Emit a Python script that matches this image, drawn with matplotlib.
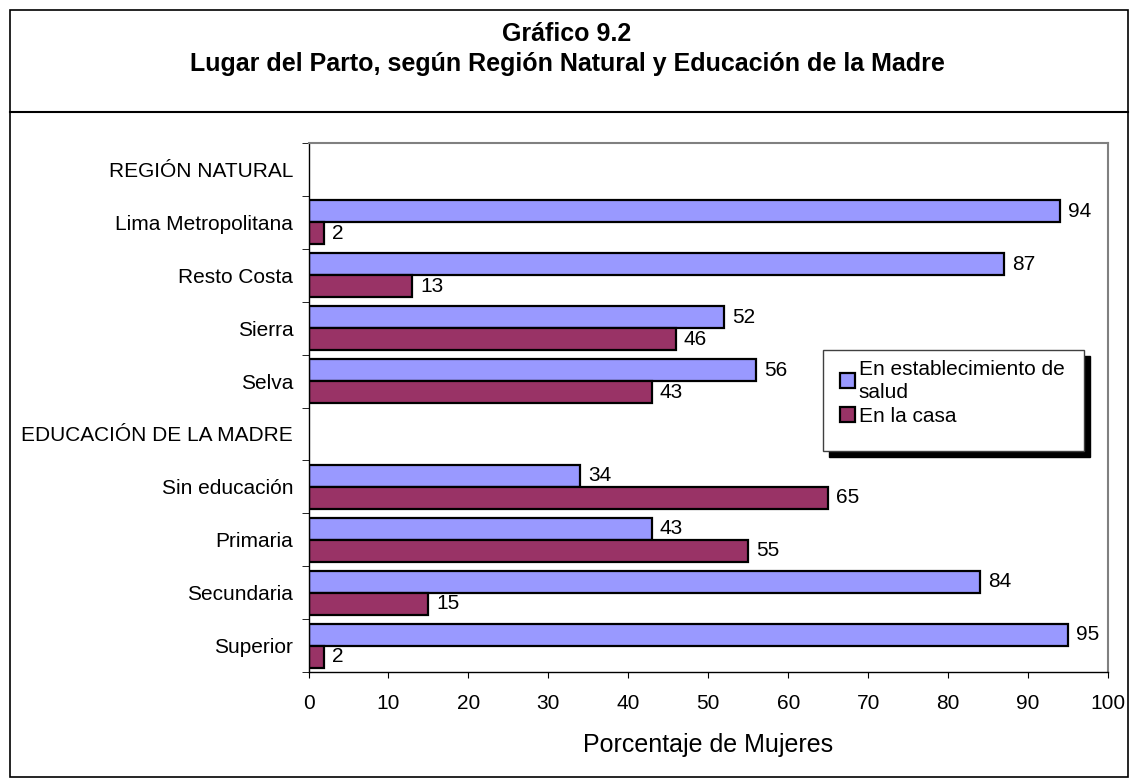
import matplotlib
matplotlib.use("Agg")
import matplotlib.pyplot as plt
from matplotlib.patches import Rectangle
from matplotlib.lines import Line2D
import numpy as np

plt.rcParams['font.family'] = ['Liberation Sans', 'DejaVu Sans']

categories = ["REGIÓN NATURAL", "Lima Metropolitana", "Resto Costa", "Sierra", "Selva",
              "EDUCACIÓN DE LA MADRE", "Sin educación", "Primaria", "Secundaria", "Superior"]
establecimiento = [None, 94, 87, 52, 56, None, 34, 43, 84, 95]
casa = [None, 2, 13, 46, 43, None, 65, 55, 15, 2]
series_names = ["En establecimiento de\nsalud", "En la casa"]
xticks = list(range(0, 101, 10))
title_lines = ["Gráfico 9.2", "Lugar del Parto, según Región Natural y Educación de la Madre"]
xlabel = "Porcentaje de Mujeres"

col_blue = "#9999FF"
col_red = "#993366"

W, H = 1131, 780
fig = plt.figure(figsize=(W / 100, H / 100), dpi=100)

def fx(px):
    return px / W

def fy(py):
    return 1 - py / H

# outer border and separator
fig.patches.append(Rectangle((fx(10), fy(777)), fx(1128) - fx(10), fy(10) - fy(777),
                             transform=fig.transFigure, fill=False, edgecolor="black", lw=1.2))
fig.lines.append(Line2D([fx(10), fx(1128)], [fy(112), fy(112)], transform=fig.transFigure,
                        color="black", lw=1.5))
fig.text(fx(567), fy(34), title_lines[0], ha="center", va="center", fontsize=18, fontweight="bold")
fig.text(fx(567), fy(64), title_lines[1], ha="center", va="center", fontsize=18, fontweight="bold")

ax_l, ax_r, ax_t, ax_b = 308.5, 1108, 143, 672
ax = fig.add_axes([fx(ax_l), fy(ax_b), fx(ax_r) - fx(ax_l), fy(ax_t) - fy(ax_b)])

n = len(categories)
ypos = np.arange(n)
bh = 0.415
for i in range(n):
    if establecimiento[i] is None:
        continue
    y1 = i - bh / 2
    y2 = i + bh / 2
    ax.barh(y1, establecimiento[i], height=bh, color=col_blue, edgecolor="black", lw=1.6)
    ax.barh(y2, casa[i], height=bh, color=col_red, edgecolor="black", lw=1.6)
    ax.text(establecimiento[i] + 0.95, y1, str(establecimiento[i]), va="center", ha="left", fontsize=15)
    ax.text(casa[i] + 0.95, y2, str(casa[i]), va="center", ha="left", fontsize=15)

ax.set_xlim(0, 100)
ax.set_ylim(n - 0.5, -0.5)
ax.set_xticks(xticks)
ax.set_xticklabels([str(t) for t in xticks], fontsize=15)
ax.set_yticks(ypos)
ax.set_yticklabels(categories, fontsize=15)
ax.tick_params(axis="y", length=0, pad=11)
ax.set_yticks(np.arange(-0.5, n, 1), minor=True)
ax.tick_params(axis="y", which="minor", length=5, direction="out")
ax.tick_params(axis="x", length=4.5, direction="out", pad=11)
ax.set_xlabel(xlabel, fontsize=18)
ax.xaxis.set_label_coords(0.5, -(745 - ax_b) / (ax_b - ax_t))
ax.xaxis.label.set_va("center")

for s in ["top", "right"]:
    ax.spines[s].set_color("#808080")
    ax.spines[s].set_linewidth(1.5)
for s in ["left", "bottom"]:
    ax.spines[s].set_color("black")
    ax.spines[s].set_linewidth(1.0)

# legend box with shadow
fig.patches.append(Rectangle((fx(829), fy(457)), fx(1090) - fx(829), fy(356) - fy(457),
                             transform=fig.transFigure, facecolor="black", edgecolor="black", zorder=5))
fig.patches.append(Rectangle((fx(823), fy(451)), fx(1084) - fx(823), fy(350) - fy(451),
                             transform=fig.transFigure, facecolor="white", edgecolor="#404040",
                             lw=1.0, zorder=6))
handles = [Rectangle((0, 0), 1, 1, facecolor=col_blue, edgecolor="black", lw=1.6),
           Rectangle((0, 0), 1, 1, facecolor=col_red, edgecolor="black", lw=1.6)]
leg = fig.legend(handles, series_names, loc="upper left", bbox_to_anchor=(fx(826), fy(346)),
                 bbox_transform=fig.transFigure, frameon=False, fontsize=15,
                 handlelength=0.72, handleheight=0.72, handletextpad=0.2,
                 borderpad=0.15, labelspacing=0.25)
for t in leg.get_texts():
    t.set_linespacing(1.27)
leg.set_zorder(7)

fig.savefig("out.png", dpi=100)
